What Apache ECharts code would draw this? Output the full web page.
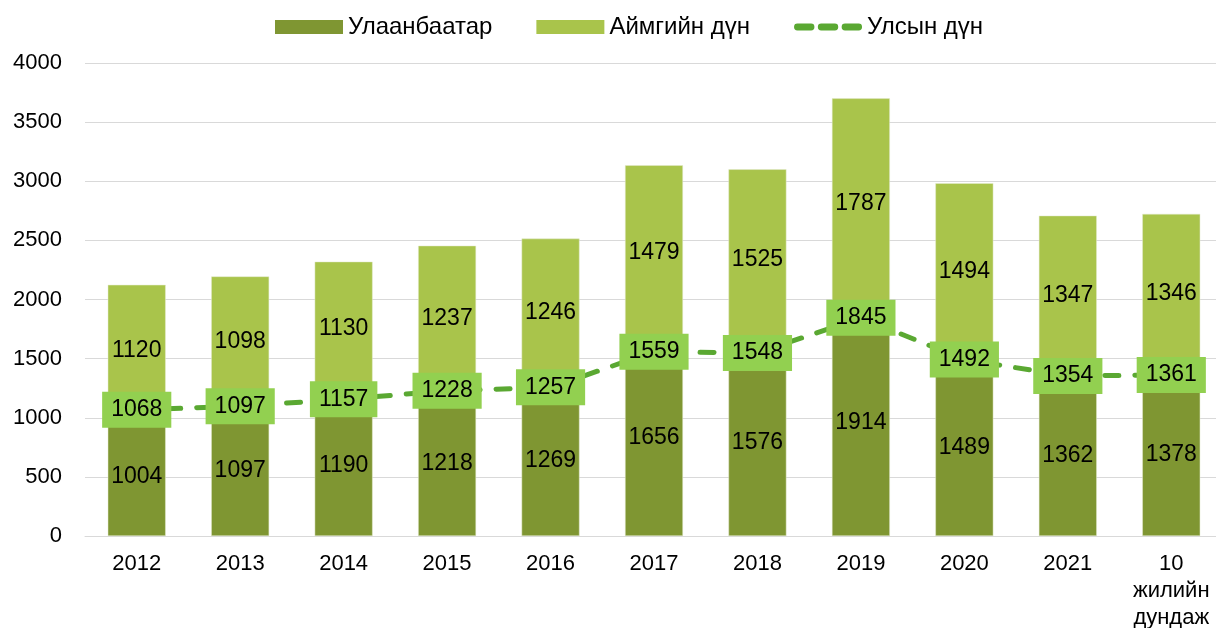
<!DOCTYPE html>
<html>
<head>
<meta charset="utf-8">
<script src="https://cdn.jsdelivr.net/npm/echarts@6/dist/echarts.min.js"></script>
<style>
html,body{margin:0;padding:0;background:#fff;}
#chart{width:1216px;height:628px;}
</style>
</head>
<body>
<div id="chart"></div>
<script>
const categories = ['2012','2013','2014','2015','2016','2017','2018','2019','2020','2021','10\nжилийн\nдундаж'];
const ulaanbaatar = [1004,1097,1190,1218,1269,1656,1576,1914,1489,1362,1378];
const aimag = [1120,1098,1130,1237,1246,1479,1525,1787,1494,1347,1346];
const national = [1068,1097,1157,1228,1257,1559,1548,1845,1492,1354,1361];
const yTicks = {min:0, max:4000, interval:500};

const font = '"Liberation Sans", Arial, sans-serif';
// three rounded dashes for the line legend icon
const dashIcon = 'path://M3,0H15A3,3 0 0 1 15,6H3A3,3 0 0 1 3,0Z M24,0H36A3,3 0 0 1 36,6H24A3,3 0 0 1 24,0Z M45,0H57A3,3 0 0 1 57,6H45A3,3 0 0 1 45,0Z';

const chart = echarts.init(document.getElementById('chart'));
chart.setOption({
  animation:false,
  textStyle:{fontFamily:font},
  legend:{
    top:10, left:270, itemGap:44, itemWidth:68, itemHeight:14,
    textStyle:{fontSize:24, color:'#000', fontFamily:font},
    data:[
      {name:'Улаанбаатар', icon:'rect', itemStyle:{borderWidth:0}},
      {name:'Аймгийн дүн', icon:'rect', itemStyle:{borderWidth:0}},
      {name:'Улсын дүн', icon:dashIcon, itemStyle:{color:'#5aa832', borderWidth:0}}
    ]
  },
  grid:{left:85, top:63, width:1138, bottom:92, outerBoundsMode:'none', containLabel:false},
  xAxis:{
    type:'category', data:categories,
    axisLine:{lineStyle:{color:'#d9d9d9', width:1}},
    axisTick:{show:false},
    axisLabel:{fontSize:22, color:'#000', lineHeight:27, margin:14, interval:0}
  },
  yAxis:{
    type:'value', min:yTicks.min, max:yTicks.max, interval:yTicks.interval,
    axisLine:{show:false}, axisTick:{show:false},
    axisLabel:{fontSize:22, color:'#000', margin:23, formatter:v => String(v)},
    splitLine:{lineStyle:{color:'#d9d9d9', width:1}}
  },
  series:[
    {
      name:'Улаанбаатар', type:'bar', stack:'total', data:ulaanbaatar, barWidth:'56%',
      itemStyle:{color:'#7f9632', borderColor:'#e4ebd0', borderWidth:0.5},
      label:{show:true, position:'inside', fontSize:23, color:'#000', fontFamily:font}
    },
    {
      name:'Аймгийн дүн', type:'bar', stack:'total', data:aimag, barWidth:'56%',
      itemStyle:{color:'#a9c44b', borderColor:'#e4ebd0', borderWidth:0.5},
      label:{show:true, position:'inside', fontSize:23, color:'#000', fontFamily:font}
    },
    {
      name:'Улсын дүн', type:'line', data:national, z:5,
      symbol:'circle', symbolSize:2, showSymbol:true,
      itemStyle:{color:'#5aa832'},
      lineStyle:{color:'#5aa832', width:5, type:[14,16], cap:'round'},
      label:{
        show:true, position:'inside', fontSize:23, color:'#000', fontFamily:font,
        backgroundColor:'#92d050', padding:[7,9,6,9]
      }
    }
  ]
});
</script>
</body>
</html>
